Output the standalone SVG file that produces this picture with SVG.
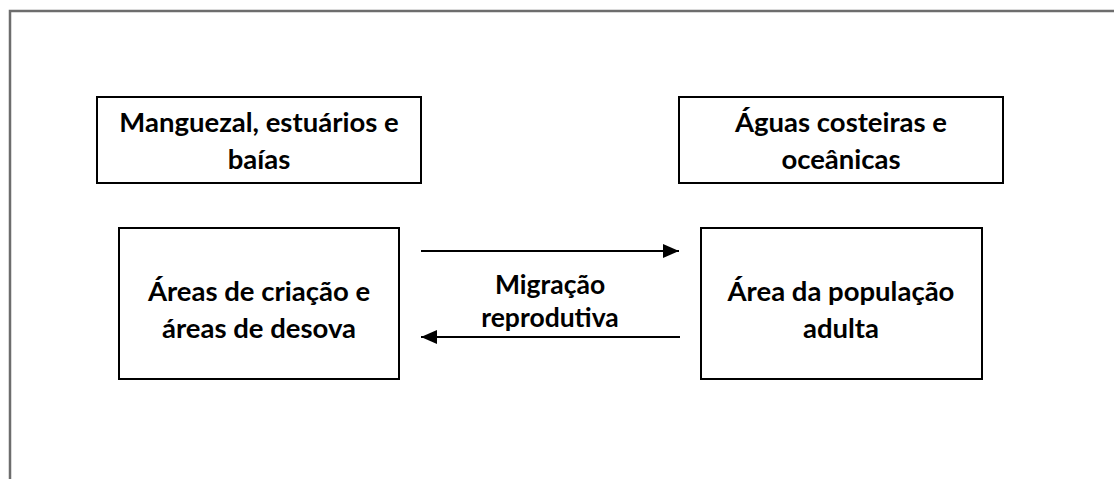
<svg xmlns="http://www.w3.org/2000/svg" width="1114" height="479" viewBox="0 0 1114 479">
  <style>
    .frame { fill: none; stroke: #6d6d6d; stroke-width: 2.5; }
    .box { fill: #ffffff; stroke: #000000; stroke-width: 2; }
    .lbl { font-family: Lato, "Open Sans", "Liberation Sans", sans-serif; font-weight: bold; font-size: 27.5px; fill: #000000; text-anchor: middle; }
    .mid { font-size: 26.5px; }
    .conn { stroke: #000000; stroke-width: 2; fill: none; }
  </style>
  <defs>
    <marker id="arrow" markerUnits="userSpaceOnUse" markerWidth="16" markerHeight="14" refX="16" refY="7" orient="auto">
      <path d="M0,0 L16,7 L0,14 Z" fill="#000000"/>
    </marker>
  </defs>
  <rect x="0" y="0" width="1114" height="479" fill="#ffffff"/>
  <path class="frame" d="M10,479 L10,11 L1114,11"/>

  <g id="node-manguezal">
    <rect class="box" x="97" y="97" width="324" height="86"/>
    <text class="lbl" x="259" y="132">Manguezal, estuários e</text>
    <text class="lbl" x="259" y="169">baías</text>
  </g>
  <g id="node-aguas">
    <rect class="box" x="679" y="97" width="324" height="86"/>
    <text class="lbl" x="841" y="132">Águas costeiras e</text>
    <text class="lbl" x="841" y="169">oceânicas</text>
  </g>
  <g id="node-criacao">
    <rect class="box" x="119" y="228" width="280" height="151"/>
    <text class="lbl" x="259" y="301">Áreas de criação e</text>
    <text class="lbl" x="259" y="338">áreas de desova</text>
  </g>
  <g id="node-adulta">
    <rect class="box" x="701" y="228" width="281" height="151"/>
    <text class="lbl" x="841" y="301">Área da população</text>
    <text class="lbl" x="841" y="338">adulta</text>
  </g>

  <g id="connectors">
    <line class="conn" x1="421" y1="251" x2="679" y2="251" marker-end="url(#arrow)"/>
    <line class="conn" x1="680" y1="337" x2="421" y2="337" marker-end="url(#arrow)"/>
    <text class="lbl mid" x="550" y="294">Migração</text>
    <text class="lbl mid" x="550" y="327">reprodutiva</text>
  </g>
</svg>
